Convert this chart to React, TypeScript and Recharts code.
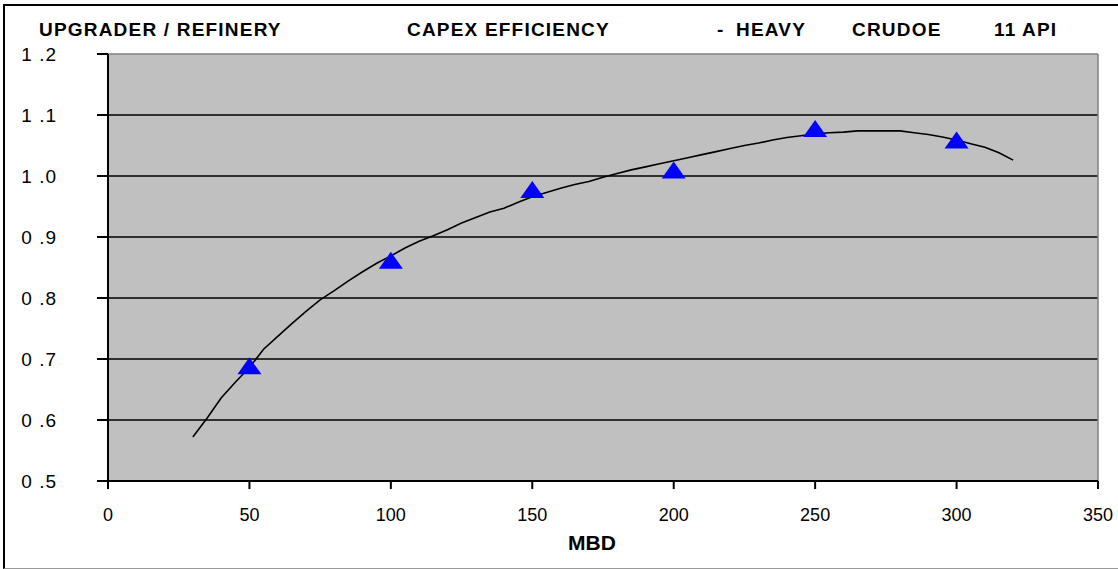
import React from 'react';
import { ComposedChart, Line, Scatter, XAxis, YAxis, CartesianGrid, ReferenceLine } from 'recharts';

// fitted curve
const curveMbd = [
  30, 35, 40, 45, 50, 55, 60, 65, 70, 75, 80, 85, 90, 95, 100, 105, 110, 115, 120, 125,
  130, 135, 140, 145, 150, 155, 160, 165, 170, 175, 180, 185, 190, 195, 200, 205, 210,
  215, 220, 225, 230, 235, 240, 245, 250, 255, 260, 265, 270, 275, 280, 285, 290, 295,
  300, 305, 310, 315, 320,
];
const curveEff = [
  0.572, 0.603, 0.636, 0.662, 0.686, 0.716, 0.737, 0.758, 0.778, 0.797, 0.812, 0.828,
  0.843, 0.857, 0.869, 0.882, 0.893, 0.902, 0.912, 0.923, 0.932, 0.941, 0.947, 0.957,
  0.966, 0.973, 0.98, 0.986, 0.991, 0.998, 1.004, 1.01, 1.015, 1.02, 1.025, 1.03, 1.035,
  1.04, 1.045, 1.05, 1.054, 1.059, 1.063, 1.066, 1.069, 1.071, 1.072, 1.074, 1.074,
  1.074, 1.074, 1.071, 1.068, 1.064, 1.059, 1.053, 1.047, 1.038, 1.026,
];

// plotted cases
const caseMbd = [50, 100, 150, 200, 250, 300];
const caseEff = [0.688, 0.861, 0.977, 1.009, 1.077, 1.058];

const xTicks = [0, 50, 100, 150, 200, 250, 300, 350];
const yTicks = [0.5, 0.6, 0.7, 0.8, 0.9, 1.0, 1.1, 1.2];

const curve = curveMbd.map((x, i) => ({ x, y: curveEff[i] }));
const cases = caseMbd.map((x, i) => ({ x, y: caseEff[i] }));

const font = '"Liberation Sans", Arial, sans-serif';

const Triangle = (props: any) => {
  const { cx, cy } = props;
  return <polygon points={`${cx},${cy - 9} ${cx + 12},${cy + 8} ${cx - 12},${cy + 8}`} fill="#0000FF" />;
};

const titleStyle: React.CSSProperties = {
  position: 'absolute',
  top: 20,
  fontFamily: font,
  fontWeight: 'bold',
  fontSize: 19,
  lineHeight: '19px',
  letterSpacing: 1.2,
  whiteSpace: 'pre',
  color: '#000',
};

const App: React.FC = () => {
  return (
    <div style={{ position: 'absolute', left: 0, top: 0, width: 1118, height: 569, overflow: 'hidden', background: '#fff' }}>
      <div
        style={{
          position: 'absolute',
          left: 3,
          top: 4,
          width: 1130,
          height: 562,
          borderLeft: '2px solid #000',
          borderTop: '2px solid #000',
          borderBottom: '1px solid #999',
        }}
      />
      <ComposedChart
        width={1118}
        height={569}
        margin={{ top: 54, right: 20, bottom: 0, left: 0 }}
        style={{ position: 'absolute', left: 0, top: 0 }}
      >
        <CartesianGrid horizontal={false} vertical={false} fill="#C0C0C0" />
        {yTicks.slice(1, -1).map((v) => (
          <ReferenceLine key={v} y={v} stroke="#000" strokeWidth={1.5} />
        ))}
        <ReferenceLine y={yTicks[yTicks.length - 1]} stroke="#808080" strokeWidth={1.5} />
        <ReferenceLine x={xTicks[xTicks.length - 1]} stroke="#808080" strokeWidth={1.5} />
        <XAxis
          dataKey="x"
          type="number"
          domain={[0, 350]}
          ticks={xTicks}
          height={88}
          stroke="#000"
          axisLine={{ stroke: '#000', strokeWidth: 2 }}
          tickLine={{ stroke: '#000', strokeWidth: 2 }}
          tickSize={8}
          tickMargin={19}
          tick={{ fill: '#000', fontFamily: font, fontSize: 18 }}
        />
        <YAxis
          type="number"
          domain={[0.5, 1.2]}
          ticks={yTicks}
          width={108}
          axisLine={{ stroke: '#000', strokeWidth: 2 }}
          tickLine={{ stroke: '#000', strokeWidth: 2 }}
          tickSize={11}
          tickMargin={40}
          tickFormatter={(v: number) => v.toFixed(1).replace('.', ' .')}
          tick={{ fill: '#000', fontFamily: font, fontSize: 19, letterSpacing: 1 }}
        />
        <Line
          data={curve}
          dataKey="y"
          type="linear"
          stroke="#000"
          strokeWidth={1.6}
          dot={false}
          activeDot={false}
          isAnimationActive={false}
        />
        <Scatter data={cases} dataKey="y" shape={<Triangle />} isAnimationActive={false} />
      </ComposedChart>
      <div style={{ ...titleStyle, left: 39 }}>UPGRADER / REFINERY</div>
      <div style={{ ...titleStyle, left: 407 }}>CAPEX EFFICIENCY</div>
      <div style={{ ...titleStyle, left: 717 }}>-</div>
      <div style={{ ...titleStyle, left: 736 }}>HEAVY</div>
      <div style={{ ...titleStyle, left: 852 }}>CRUDOE</div>
      <div style={{ ...titleStyle, left: 994 }}>11</div>
      <div style={{ ...titleStyle, left: 1022 }}>API</div>
      <div
        style={{
          position: 'absolute',
          left: 568,
          top: 532,
          fontFamily: font,
          fontWeight: 'bold',
          fontSize: 21,
          lineHeight: '21px',
          color: '#000',
        }}
      >
        MBD
      </div>
    </div>
  );
};

export default App;
